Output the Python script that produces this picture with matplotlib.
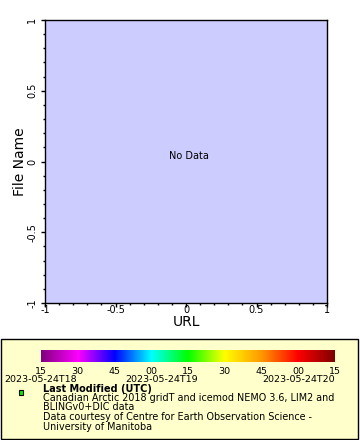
import numpy as np
import matplotlib
matplotlib.use("Agg")
import matplotlib.pyplot as plt
from matplotlib.colors import LinearSegmentedColormap
from matplotlib.ticker import MultipleLocator
from matplotlib.patches import Rectangle
from matplotlib.transforms import blended_transform_factory

x_label = "URL"
y_label = "File Name"
x_limits = [-1, 1]
y_limits = [-1, 1]
major_ticks = [-1, -0.5, 0, 0.5, 1]
major_tick_labels = ["-1", "-0.5", "0", "0.5", "1"]
message = "No Data"

cbar_colors = ["#800080", "#ff00ff", "#0000ff", "#00ffff", "#00ff00",
               "#ffff00", "#ff9900", "#ff0000", "#800000"]
cbar_tick_labels = ["15", "30", "45", "00", "15", "30", "45", "00", "15"]
cbar_date_labels = ["2023-05-24T18", "2023-05-24T19", "2023-05-24T20"]
legend_title = "Last Modified (UTC)"
legend_lines = ["Canadian Arctic 2018 gridT and icemod NEMO 3.6, LIM2 and",
                "BLINGv0+DIC data",
                "Data courtesy of Centre for Earth Observation Science -",
                "University of Manitoba"]

W, H = 360, 440
fig = plt.figure(figsize=(W / 100, H / 100), dpi=100)
fig.patch.set_facecolor("white")

def fx(px):
    return px / W

def fy(py):
    return 1 - py / H

# legend box (drawn first, behind everything)
box = Rectangle((fx(1), fy(439)), fx(358) - fx(1), fy(339) - fy(439),
                transform=fig.transFigure, facecolor="#ffffcc", edgecolor="black",
                linewidth=1, zorder=0)
fig.patches.append(box)

# main axes
ax = fig.add_axes([fx(45), fy(303), fx(327) - fx(45), fy(20) - fy(303)])
ax.set_zorder(2)
ax.set_facecolor("#ccccff")
ax.set_xlim(x_limits)
ax.set_ylim(y_limits)
ax.set_xticks(major_ticks)
ax.set_xticklabels(major_tick_labels)
ax.set_yticks(major_ticks)
ax.set_yticklabels(major_tick_labels, rotation=90, va="center")
ax.xaxis.set_minor_locator(MultipleLocator(0.1))
ax.yaxis.set_minor_locator(MultipleLocator(0.1))
ax.tick_params(which="major", direction="out", length=3, width=1, labelsize=7)
ax.tick_params(which="minor", direction="out", length=1.6, width=1)
ax.tick_params(axis="x", which="major", pad=-1.8)
ax.tick_params(axis="y", which="major", pad=2.5)
ax.tick_params(top=False, right=False)
for s in ax.spines.values():
    s.set_linewidth(1)
ax.set_xlabel(x_label, fontsize=10, labelpad=0.3)
ax.set_ylabel(y_label, fontsize=10, labelpad=0)
ax.text(0.51, 0.52, message, transform=ax.transAxes, ha="center", va="center", fontsize=7)

# colorbar
n = len(cbar_tick_labels) - 1
cmap = LinearSegmentedColormap.from_list("cb", cbar_colors, N=256)
cax = fig.add_axes([fx(41), fy(362), fx(335) - fx(41), fy(350) - fy(362)])
cax.set_zorder(3)
grad = np.linspace(0, 1, 256).reshape(1, -1)
cax.imshow(grad, aspect="auto", cmap=cmap, extent=[0, n, 0, 1])
cax.set_xlim(0, n)
cax.set_xticks([])
cax.set_yticks([])
for s in cax.spines.values():
    s.set_visible(False)

btrans = blended_transform_factory(cax.transData, fig.transFigure)
for i, lab in enumerate(cbar_tick_labels):
    cax.text(i, fy(373.5), lab, transform=btrans, ha="center", va="baseline",
             fontsize=6.8, clip_on=False)

# date label placement (layout, in colorbar units)
date_layout = [(0.0, "center"), (3.28, "center"), (n, "right")]
for (pos, ha), lab in zip(date_layout, cbar_date_labels):
    cax.text(pos, fy(382), lab, transform=btrans, ha=ha, va="baseline",
             fontsize=6.8, clip_on=False)

# marker and text
fig.add_artist(Rectangle((fx(18.5), fy(395)), 5 / W, 5 / H, transform=fig.transFigure,
                         facecolor="#00ee00", edgecolor="black", linewidth=0.8,
                         zorder=4))
fig.text(fx(43), fy(392), legend_title, fontsize=7, fontweight="bold", va="baseline",
         zorder=4)
for i, line in enumerate(legend_lines):
    fig.text(fx(43), fy(400.5 + i * 9.7), line, fontsize=6.9, va="baseline", zorder=4)

fig.savefig("out.png", dpi=100)
